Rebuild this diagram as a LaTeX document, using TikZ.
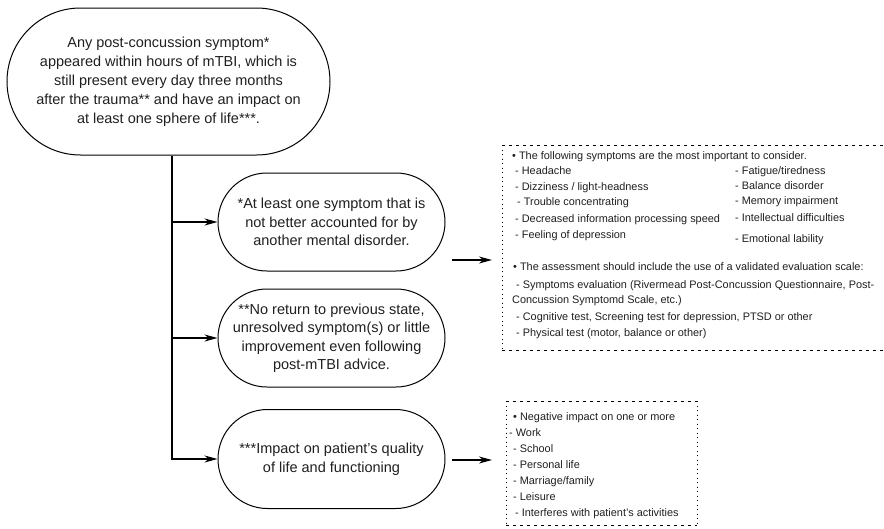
\documentclass[tikz,border=0pt]{standalone}
\usepackage{fontspec}
\setmainfont{Liberation Sans}
\usetikzlibrary{arrows.meta}
\begin{document}
\begin{tikzpicture}[x=1pt,y=-1pt,
  pill/.style={draw, line width=1pt, rectangle, align=center, inner sep=0pt,
    text=black!88, font=\fontsize{14.5}{18.5}\selectfont},
  conn/.style={line width=1.1pt, -{Stealth[length=13pt,width=7pt,inset=4pt]}},
  hdash/.style={line width=0.8pt, dash pattern=on 2.5pt off 4.5pt},
  vdot/.style={line width=0.9pt, dash pattern=on 1.3pt off 3.2pt},
  sm/.style={anchor=base west, inner sep=0pt, text=black!88, font=\fontsize{10.9}{12}\selectfont}
]
\useasboundingbox (0,0) rectangle (884,528);

% main pill nodes
\node[pill, minimum width=323pt, minimum height=147pt, rounded corners=73.5pt,
  font=\fontsize{14.5}{19}\selectfont] (top) at (168.5,81.5)
  {Any post-concussion symptom*\\appeared within hours of mTBI, which is\\still present every day three months\\after the trauma** and have an impact on\\at least one sphere of life***.};
\node[pill, minimum width=227pt, minimum height=98pt, rounded corners=49pt] (n1) at (331.5,222)
  {*At least one symptom that is\\not better accounted for by\\another mental disorder.};
\node[pill, minimum width=227pt, minimum height=98pt, rounded corners=49pt] (n2) at (331.5,338)
  {**No return to previous state,\\unresolved symptom(s) or little\\improvement even following\\post-mTBI advice.};
\node[pill, minimum width=227pt, minimum height=99pt, rounded corners=49.5pt] (n3) at (331.5,459)
  {***Impact on patient’s quality\\of life and functioning};

% dotted boxes (box 1 runs off the right edge)
\coordinate (b1tl) at (502,145);
\coordinate (b1bl) at (502,350);
\coordinate (b1tr) at (884,145);
\coordinate (b1br) at (884,350);
\draw[hdash] (b1tl) -- (b1tr);
\draw[hdash] (b1bl) -- (b1br);
\draw[vdot] (b1tl) -- (b1bl);
\coordinate (b2tl) at (506,401);
\coordinate (b2tr) at (697,401);
\coordinate (b2bl) at (506,525);
\coordinate (b2br) at (697,525);
\draw[hdash] (b2tl) -- (b2tr);
\draw[hdash] (b2bl) -- (b2br);
\draw[vdot] (b2tl) -- (b2bl);
\draw[vdot] (b2tr) -- (b2br);

% connectors
\draw[conn] ([xshift=3.5pt]top.south) |- (n3.west);
\draw[conn] ([xshift=3.5pt]top.south |- n1.west) -- (n1.west);
\draw[conn] ([xshift=3.5pt]top.south |- n2.west) -- (n2.west);

\coordinate (a1) at (452,260);
\coordinate (a3) at (452,460);
\draw[conn] (a1) -- ([xshift=-10pt]b1tl |- a1);
\draw[conn] (a3) -- ([xshift=-14pt]b2tl |- a3);

% box 1 text
\node[sm] (s1) at (512,159) {• The following symptoms are the most important to consider.};
\node[sm] (s2) at (515,174) {- Headache};
\node[sm] (s3) at (515,190) {- Dizziness / light-headness};
\node[sm] (s4) at (517,205) {- Trouble concentrating};
\node[sm] (s5) at (515,222) {- Decreased information processing speed};
\node[sm] (s6) at (515,238) {- Feeling of depression};
\node[sm] (r2) at (735,174) {- Fatigue/tiredness};
\node[sm] (r3) at (735,189) {- Balance disorder};
\node[sm] (r4) at (735,204) {- Memory impairment};
\node[sm] (r5) at (735,221) {- Intellectual difficulties};
\node[sm] (r6) at (735,242) {- Emotional lability};
\node[sm] (s7) at (513,270) {• The assessment should include the use of a validated evaluation scale:};
\node[sm] (s8) at (516,288) {- Symptoms evaluation (Rivermead Post-Concussion Questionnaire, Post-};
\node[sm] (s9) at (512,303) {Concussion Symptomd Scale, etc.)};
\node[sm] (s10) at (516,320) {- Cognitive test, Screening test for depression, PTSD or other};
\node[sm] (s11) at (516,336) {- Physical test (motor, balance or other)};

% box 2 text
\node[sm] (u1) at (513,420) {• Negative impact on one or more};
\node[sm] (u2) at (509,436) {- Work};
\node[sm] (u3) at (513,452) {- School};
\node[sm] (u4) at (513,468) {- Personal life};
\node[sm] (u5) at (513,484) {- Marriage/family};
\node[sm] (u6) at (513,500) {- Leisure};
\node[sm] (u7) at (515,516) {- Interferes with patient’s activities};
\end{tikzpicture}
\end{document}
